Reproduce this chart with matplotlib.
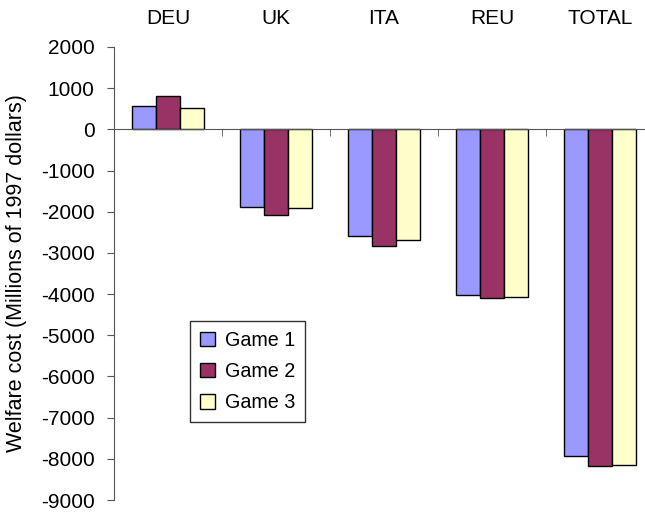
import matplotlib
matplotlib.use("Agg")
import matplotlib.pyplot as plt
import numpy as np
from matplotlib.ticker import FixedLocator

categories = ["DEU", "UK", "ITA", "REU", "TOTAL"]
game1 = [570, -1880, -2595, -4030, -7930]
game2 = [800, -2070, -2830, -4105, -8185]
game3 = [510, -1910, -2690, -4070, -8155]
series_names = ["Game 1", "Game 2", "Game 3"]
yticks = list(range(-9000, 2001, 1000))

colors = ["#9999FF", "#993366", "#FFFFCC"]

plt.rcParams['font.family'] = ['Liberation Sans', 'DejaVu Sans']

fig = plt.figure(figsize=(6.45, 5.14), dpi=100)
ax = fig.add_axes([114/645, 1-500/514, 540/645, 453/514])

x = np.arange(len(categories))
w = 0.2222
for i, (vals, name) in enumerate(zip([game1, game2, game3], series_names)):
    ax.bar(x + (i - 1) * w, vals, width=w, color=colors[i], edgecolor="black",
           linewidth=1.0, label=name)

ax.set_xlim(-0.5, len(categories) - 0.5)
ax.set_ylim(-9000, 2000)
ax.set_yticks(yticks)
ax.set_yticklabels([str(v) for v in yticks], fontsize=15)

ax.spines['top'].set_visible(False)
ax.spines['right'].set_visible(False)
ax.spines['bottom'].set_position(('data', 0))
ax.spines['left'].set_color('#555555')
ax.spines['bottom'].set_color('#555555')

ax.set_xticks(x)
ax.set_xticklabels(categories, fontsize=15)
ax.xaxis.set_minor_locator(FixedLocator(np.arange(len(categories) + 1) - 0.5))
ax.tick_params(axis='x', which='major', top=False, bottom=False, length=0,
               labeltop=True, labelbottom=False, pad=14)
ax.tick_params(axis='x', which='minor', bottom=True, direction='out',
               length=5, color='#555555')
ax.tick_params(axis='y', direction='out', length=5, color='#555555', pad=9)

ax.set_ylabel("Welfare cost (Millions of 1997 dollars)", fontsize=15.5)
ax.yaxis.set_label_coords(-0.161, 0.5)

leg = ax.legend(loc='upper left', bbox_to_anchor=((190-114)/540, (500-321)/453),
                fontsize=14.2, frameon=True, fancybox=False, edgecolor='black',
                handlelength=0.75, handleheight=0.75, handletextpad=0.5,
                borderpad=0.5, labelspacing=0.62, borderaxespad=0)
leg.get_frame().set_linewidth(1.0)

fig.savefig("out.png", dpi=100)
